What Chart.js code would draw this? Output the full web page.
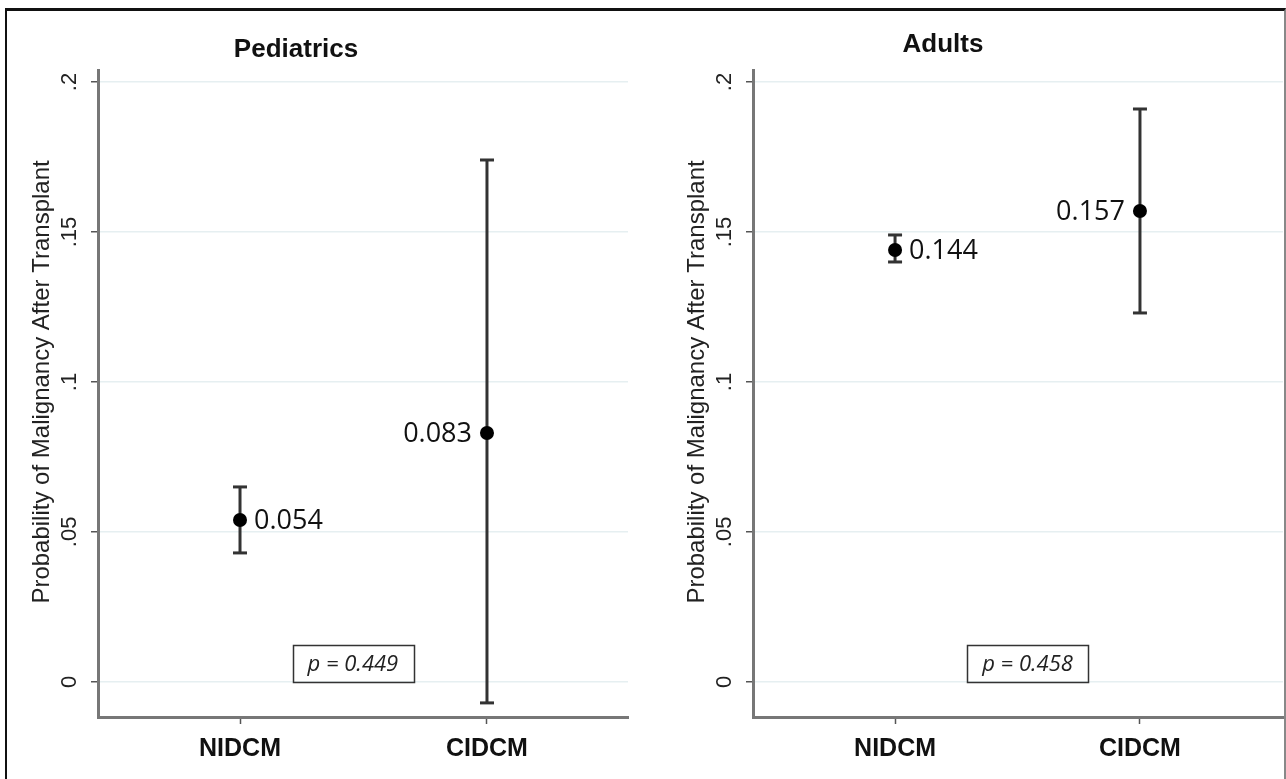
<!DOCTYPE html>
<html>
<head>
<meta charset="utf-8">
<script src="https://cdn.jsdelivr.net/npm/chart.js@4.4.1/dist/chart.umd.min.js"></script>
<style>
  html, body { margin: 0; padding: 0; background: #fff; width: 1286px; height: 779px; overflow: hidden; }
  #frame { position: absolute; left: 5px; top: 8px; width: 1281px; height: 800px; box-sizing: border-box;
           border-top: 3px solid #111; border-left: 2px solid #111; border-right: 2px solid #888; }
  canvas { position: absolute; top: 10px; }
  #pedChart { left: 7px; }
  #adultChart { left: 662px; }
</style>
</head>
<body>
<div id="frame"></div>
<canvas id="pedChart" width="633" height="769"></canvas>
<canvas id="adultChart" width="624" height="769"></canvas>
<script>
const groups = ['NIDCM', 'CIDCM'];
const yTicks = [0, 0.05, 0.1, 0.15, 0.2];
const yTickLabels = ['0', '.05', '.1', '.15', '.2'];
const yTitle = 'Probability of Malignancy After Transplant';

const pedEstimate = [0.054, 0.083];
const pedLower = [0.043, -0.007];
const pedUpper = [0.065, 0.174];
const pedPValue = 'p = 0.449';

const adultEstimate = [0.144, 0.157];
const adultLower = [0.140, 0.123];
const adultUpper = [0.149, 0.191];
const adultPValue = 'p = 0.458';

Chart.defaults.font.family = '"Liberation Sans", Arial, sans-serif';
Chart.defaults.animation = false;

// value labels, titles and the p-value box
const annotate = {
  id: 'annotate',
  afterDatasetsDraw(chart, args, opts) {
    const ctx = chart.ctx;
    const xs = chart.scales.x, ys = chart.scales.y;
    ctx.save();
    ctx.fillStyle = '#111';
    ctx.textBaseline = 'middle';

    ctx.font = 'bold 26px "Liberation Sans"';
    ctx.textAlign = 'center';
    ctx.fillText(opts.title, chart.chartArea.left + opts.titleDx, opts.titleY);

    // y axis title, centred on the tick range like the original
    ctx.save();
    ctx.font = '24px "Liberation Sans"';
    ctx.fillStyle = '#222';
    const midY = ys.getPixelForValue((yTicks[0] + yTicks[yTicks.length - 1]) / 2);
    ctx.translate(chart.chartArea.left - 56, midY);
    ctx.rotate(-Math.PI / 2);
    ctx.fillText(yTitle, 0, 0);
    ctx.restore();

    ctx.font = '27px "Open Sans"';
    opts.values.forEach((v, i) => {
      const px = xs.getPixelForValue(i + 1);
      const py = ys.getPixelForValue(v);
      if (i === 0) {
        ctx.textAlign = 'left';
        ctx.fillText(v.toFixed(3), px + 14, py + 1);
      } else {
        ctx.textAlign = 'right';
        ctx.fillText(v.toFixed(3), px - 15, py + 1);
      }
    });

    ctx.font = 'italic 22px "Open Sans"';
    ctx.textAlign = 'center';
    const bx = xs.getPixelForValue(opts.pBox.x);
    const by = ys.getPixelForValue(opts.pBox.y);
    const w = ctx.measureText(opts.pText).width + 30;
    const h = 37;
    ctx.strokeStyle = '#333';
    ctx.lineWidth = 1.5;
    ctx.strokeRect(Math.round(bx - w / 2) + 0.5, Math.round(by - h / 2) + 0.5, Math.round(w), h);
    ctx.fillStyle = '#222';
    ctx.fillText(opts.pText, bx, by + 1);
    ctx.restore();
  }
};

function makePanel(id, title, estimate, lower, upper, pText, panel) {
  const errorBars = groups.map((g, i) => ({
    data: [{ x: i + 1, y: lower[i] }, { x: i + 1, y: upper[i] }],
    showLine: true,
    borderColor: '#333',
    borderWidth: 3,
    pointStyle: 'line',
    pointRadius: 7,
    pointBorderWidth: 3,
    pointBorderColor: '#333',
    order: 1
  }));

  new Chart(document.getElementById(id), {
    type: 'scatter',
    data: {
      datasets: [{
        label: title,
        data: estimate.map((v, i) => ({ x: i + 1, y: v })),
        pointRadius: 7,
        pointBackgroundColor: '#000',
        pointBorderWidth: 0,
        order: 0
      }].concat(errorBars)
    },
    options: {
      responsive: false,
      events: [],
      layout: { autoPadding: false, padding: { top: 60, right: panel.padRight, left: 0, bottom: 0 } },
      plugins: {
        legend: { display: false },
        tooltip: { enabled: false },
        annotate: {
          title: title, titleDx: panel.titleDx, titleY: panel.titleY,
          values: estimate, pText: pText, pBox: panel.pBox
        }
      },
      scales: {
        x: {
          type: 'linear',
          min: panel.xMin,
          max: panel.xMax,
          afterBuildTicks: ax => { ax.ticks = groups.map((g, i) => ({ value: i + 1 })); },
          afterFit: s => { s.height = 62; s.paddingLeft = 0; s.paddingRight = 0; },
          ticks: {
            callback: v => groups[v - 1],
            font: { size: 25, weight: 'bold' },
            color: '#111',
            padding: 10,
            autoSkip: false,
            maxRotation: 0
          },
          grid: { drawOnChartArea: false, tickLength: 7, tickColor: '#555', tickWidth: 1.5 },
          border: { color: '#777', width: 3 }
        },
        y: {
          min: -0.0117,
          max: 0.204,
          afterBuildTicks: ax => { ax.ticks = yTicks.map(v => ({ value: v })); },
          afterFit: s => { s.width = 91; },
          ticks: {
            callback: v => yTickLabels[yTicks.indexOf(v)],
            minRotation: 90,
            maxRotation: 90,
            crossAlign: 'center',
            padding: 6,
            font: { size: 22 },
            color: '#222'
          },
          grid: { color: '#e6eff1', lineWidth: 1.5, tickLength: 7, tickColor: '#555', tickWidth: 1.5 },
          border: { color: '#777', width: 3 }
        }
      }
    },
    plugins: [annotate]
  });
}

makePanel('pedChart', 'Pediatrics', pedEstimate, pedLower, pedUpper, pedPValue,
  { xMin: 0.425, xMax: 2.571, padRight: 12, titleDx: 198, titleY: 40, pBox: { x: 1.457, y: 0.0062 } });
makePanel('adultChart', 'Adults', adultEstimate, adultLower, adultUpper, adultPValue,
  { xMin: 0.42, xMax: 2.584, padRight: 3, titleDx: 190, titleY: 35, pBox: { x: 1.541, y: 0.0062 } });
</script>
</body>
</html>
